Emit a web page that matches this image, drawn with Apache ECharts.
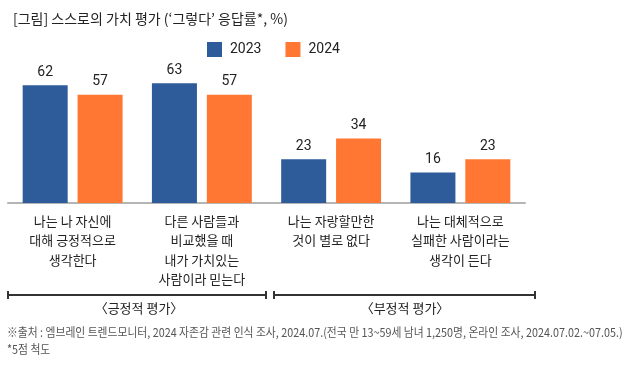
<!DOCTYPE html>
<html><head><meta charset="utf-8">
<script src="https://cdn.jsdelivr.net/npm/echarts@6/dist/echarts.min.js"></script>
<style>html,body{margin:0;padding:0;background:#fff}#c{width:630px;height:368px}</style>
</head><body><div id="c"></div>
<script>
const categories = [
  '나는 나 자신에\n대해 긍정적으로\n생각한다',
  '다른 사람들과\n비교했을 때\n내가 가치있는\n사람이라 믿는다',
  '나는 자랑할만한\n것이 별로 없다',
  '나는 대체적으로\n실패한 사람이라는\n생각이 든다'
];
const series2023 = [62, 63, 23, 16];
const series2024 = [57, 57, 34, 23];
const seriesNames = ['2023', '2024'];
const groupLabels = ['〈긍정적 평가〉', '〈부정적 평가〉'];
const titleText = "[그림] 스스로의 가치 평가 (‘그렇다’ 응답률*, %)";
const footnote1 = '※출처 : 엠브레인 트렌드모니터, 2024 자존감 관련 인식 조사, 2024.07.(전국 만 13~59세 남녀 1,250명, 온라인 조사, 2024.07.02.~07.05.)';
const footnote2 = '*5점 척도';

const FONT = '"Noto Sans CJK KR", Roboto, sans-serif';
const chart = echarts.init(document.getElementById('c'), null, {renderer: 'canvas'});
const lbl = {show: true, position: 'top', distance: 6, fontSize: 14, color: '#222', fontFamily: 'Roboto, sans-serif'};
chart.setOption({
  animation: false,
  textStyle: {fontFamily: FONT},
  title: {text: titleText, left: 8, top: 7, textStyle: {fontSize: 14, fontWeight: 'normal', color: '#222', fontFamily: FONT}},
  legend: {
    data: seriesNames, left: 207, top: 42, itemWidth: 15, itemHeight: 15, itemGap: 24,
    icon: 'rect', padding: 0,
    textStyle: {fontSize: 14, color: '#222', fontFamily: 'Roboto, sans-serif', padding: [0, 0, 0, 3]}
  },
  grid: {left: 8, right: 105, top: 70, bottom: 165, containLabel: false},
  xAxis: {
    type: 'category', data: categories,
    axisLine: {lineStyle: {color: '#b5b5b5', width: 2}},
    axisTick: {show: false},
    axisLabel: {interval: 0, fontSize: 13, lineHeight: 19.5, color: '#222', margin: 8, fontFamily: FONT}
  },
  yAxis: {type: 'value', min: 0, max: 70, show: false, splitLine: {show: false}},
  series: [
    {name: seriesNames[0], type: 'bar', data: series2023, barWidth: 45, barGap: '22%',
     itemStyle: {color: '#2E5B99'}, label: lbl},
    {name: seriesNames[1], type: 'bar', data: series2024, barWidth: 45,
     itemStyle: {color: '#FF7733'}, label: lbl}
  ],
  graphic: [
    {type: 'line', shape: {x1: 8, y1: 295, x2: 266, y2: 295}, style: {stroke: '#333', lineWidth: 2}},
    {type: 'line', shape: {x1: 8, y1: 291, x2: 8, y2: 299}, style: {stroke: '#333', lineWidth: 2}},
    {type: 'line', shape: {x1: 266, y1: 291, x2: 266, y2: 299}, style: {stroke: '#333', lineWidth: 2}},
    {type: 'line', shape: {x1: 274, y1: 295, x2: 535, y2: 295}, style: {stroke: '#333', lineWidth: 2}},
    {type: 'line', shape: {x1: 274, y1: 291, x2: 274, y2: 299}, style: {stroke: '#333', lineWidth: 2}},
    {type: 'line', shape: {x1: 535, y1: 291, x2: 535, y2: 299}, style: {stroke: '#333', lineWidth: 2}},
    {type: 'text', x: 139, y: 308, style: {text: groupLabels[0], fontSize: 13, fill: '#222', align: 'center', verticalAlign: 'middle', fontFamily: FONT}},
    {type: 'text', x: 405, y: 308, style: {text: groupLabels[1], fontSize: 13, fill: '#222', align: 'center', verticalAlign: 'middle', fontFamily: FONT}},
    {type: 'text', x: 7, y: 332, scaleX: 0.9, style: {text: footnote1, fontSize: 12, fill: '#555', verticalAlign: 'middle', fontFamily: FONT}},
    {type: 'text', x: 7, y: 349, scaleX: 0.9, style: {text: footnote2, fontSize: 12, fill: '#555', verticalAlign: 'middle', fontFamily: FONT}}
  ]
});
</script></body></html>
